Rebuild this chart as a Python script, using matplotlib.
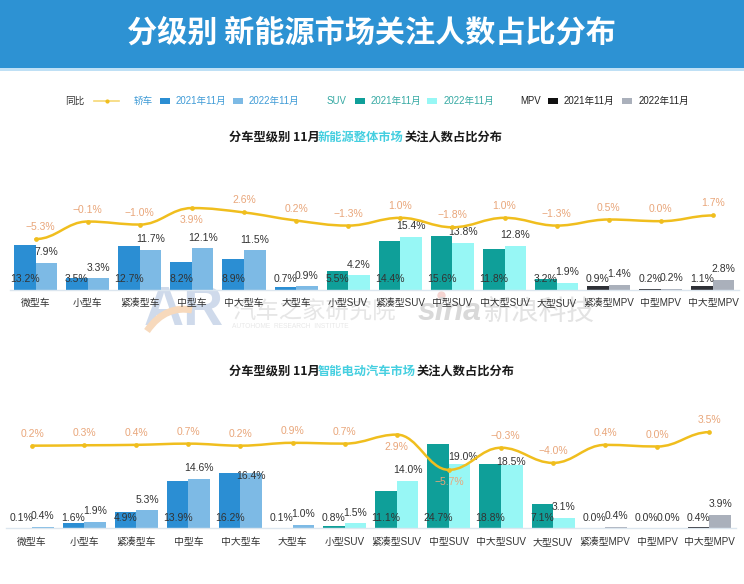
import numpy as np
import matplotlib
matplotlib.use("Agg")
import matplotlib.pyplot as plt
from matplotlib.path import Path
from matplotlib.patches import PathPatch, Rectangle

FONT = ['Liberation Sans', 'Noto Sans CJK SC', 'DejaVu Sans']
CJK = ['Noto Sans CJK SC', 'Liberation Sans', 'DejaVu Sans']
plt.rcParams['font.family'] = FONT

categories = ['微型车', '小型车', '紧凑型车', '中型车', '中大型车', '大型车', '小型SUV',
              '紧凑型SUV', '中型SUV', '中大型SUV', '大型SUV', '紧凑型MPV', '中型MPV', '中大型MPV']
segment_sizes = [6, 5, 3]

overall_2021 = [13.2, 3.5, 12.7, 8.2, 8.9, 0.7, 5.5, 14.4, 15.6, 11.8, 3.2, 0.9, 0.2, 1.1]
overall_2022 = [7.9, 3.3, 11.7, 12.1, 11.5, 0.9, 4.2, 15.4, 13.8, 12.8, 1.9, 1.4, 0.2, 2.8]
overall_yoy = [-5.3, -0.1, -1.0, 3.9, 2.6, 0.2, -1.3, 1.0, -1.8, 1.0, -1.3, 0.5, 0.0, 1.7]

smart_2021 = [0.1, 1.6, 4.9, 13.9, 16.2, 0.1, 0.8, 11.1, 24.7, 18.8, 7.1, 0.0, 0.0, 0.4]
smart_2022 = [0.4, 1.9, 5.3, 14.6, 16.4, 1.0, 1.5, 14.0, 19.0, 18.5, 3.1, 0.4, 0.0, 3.9]
smart_yoy = [0.2, 0.3, 0.4, 0.7, 0.2, 0.9, 0.7, 2.9, -5.7, -0.3, -4.0, 0.4, 0.0, 3.5]

colors_2021 = ['#2B8ED3', '#0F9F99', '#2E3036']
colors_2022 = ['#7DBAE5', '#97F7F5', '#AAB0BB']
LINE = '#F0BE1E'
LABEL = '#333333'
YOY_LABEL = '#E9A67A'
W, H = 744, 584

fig = plt.figure(figsize=(W / 100, H / 100), dpi=100, facecolor='white')
deco = fig.add_axes([0, 0, 1, 1], zorder=0)
deco.set_xlim(0, W)
deco.set_ylim(H, 0)
deco.axis('off')


def pct(v):
    return f"{v:.1f}%".replace('-', '\u2212')


def smooth_path(x, y):
    x, y = np.asarray(x, float), np.asarray(y, float)
    m = np.zeros(len(y))
    for i in range(1, len(y) - 1):
        if (y[i] - y[i - 1]) * (y[i + 1] - y[i]) > 0:
            m[i] = (y[i + 1] - y[i - 1]) / 2
    verts, codes = [(x[0], y[0])], [Path.MOVETO]
    for i in range(len(y) - 1):
        verts += [(x[i] + 0.4, y[i] + 0.4 * m[i]),
                  (x[i + 1] - 0.4, y[i + 1] - 0.4 * m[i + 1]),
                  (x[i + 1], y[i + 1])]
        codes += [Path.CURVE4] * 3
    return Path(verts, codes)


def panel(left, right, top, base, v21, v22, yoy, zero_px, slope, offsets22, yoy_shift):
    ax = fig.add_axes([left / W, 1 - base / H, (right - left) / W, (base - top) / H], zorder=1)
    ax.patch.set_alpha(0)
    ax.set_xlim(-0.5, len(categories) - 0.5)
    ax.set_ylim(0, (base - top) / 3.4)
    for s in ['top', 'left', 'right']:
        ax.spines[s].set_visible(False)
    ax.spines['bottom'].set_color('#DCE6EF')
    ax.spines['bottom'].set_linewidth(1)
    ax.set_yticks([])
    ax.set_xticks(range(len(categories)), categories, fontsize=7.1, color='#333333')
    ax.tick_params(axis='x', length=0, pad=12)
    for t_ in ax.get_xticklabels():
        t_.set_va('baseline')

    x = np.arange(len(categories))
    bw = 0.413
    col21 = np.repeat(colors_2021, segment_sizes)
    col22 = np.repeat(colors_2022, segment_sizes)
    ax.bar(x - bw / 2, v21, bw, color=col21, linewidth=0)
    ax.bar(x + bw / 2, v22, bw, color=col22, linewidth=0)

    for i in x:
        ax.annotate(pct(v21[i]), (i - bw / 2, 0), xytext=(0, 10.5), textcoords='offset pixels',
                    ha='center', va='center', fontsize=7.5, color=LABEL, zorder=5)
        ax.annotate(pct(v22[i]), (i + bw / 2, v22[i]),
                    xytext=offsets22.get(i, (0, 10.7)), textcoords='offset pixels',
                    ha='center', va='center', fontsize=7.5, color=LABEL, zorder=5)

    line_ax = ax.twinx()
    line_ax.patch.set_alpha(0)
    line_ax.axis('off')
    line_ax.set_ylim((zero_px - base) / slope, (zero_px - top) / slope)
    line_ax.add_patch(PathPatch(smooth_path(x, yoy), fill=False, edgecolor=LINE, linewidth=1.8, capstyle='round'))
    line_ax.plot(x, yoy, ls='none', marker='o', ms=3.4, color=LINE, mew=0)
    for i in x:
        below = i in yoy_shift['below']
        dx = yoy_shift['dx'].get(i, 0)
        line_ax.annotate(pct(yoy[i]), (i, yoy[i]), xytext=(dx, -12 if below else 12),
                         textcoords='offset pixels', ha='center', va='center',
                         fontsize=7.5, color=YOY_LABEL, zorder=6)
    return ax


panel(9.5, 739, 180, 289.5, overall_2021, overall_2022, overall_yoy, 221.2, 3.37, {},
      {'below': {3}, 'dx': {0: 4.5}})
panel(6, 735.5, 410, 528.3, smart_2021, smart_2022, smart_yoy, 446.5, 4.1,
      {4: (0, -3.5), 8: (3, 7), 9: (-1, 3), 7: (0, 10.7)},
      {'below': {7, 8}, 'dx': {9: 4}})

# header banner
deco.add_patch(Rectangle((0, 0), W, 68, color='#2D92D3', lw=0))
deco.add_patch(Rectangle((0, 68), W, 2.5, color='#BFE0F5', lw=0))
deco.text(371.5, 33, '分级别 新能源市场关注人数占比分布', color='white', fontsize=21.7,
          fontweight='bold', family=CJK, ha='center', va='center')


def t(x, y, s, c='#222222', fs=6.9, **kw):
    deco.text(x, y, s, color=c, fontsize=fs, va='center', ha=kw.pop('ha', 'left'), family=kw.pop('family', FONT), **kw)


# legend
LY = 100.7
LEG_BLUE, LEG_GREEN = '#3F9BD6', '#35A9A3'
t(65.5, LY, '同比', '#333333')
deco.plot([94, 119], [LY, LY], color='#F6D876', lw=1.2)
deco.plot([106.5], [LY], marker='o', ms=3, color=LINE, mew=0)
legend_groups = [
    ('轿车', 134, LEG_BLUE, colors_2021[0], colors_2022[0], 159.5, 232.5),
    ('SUV', 326.5, LEG_GREEN, colors_2021[1], colors_2022[1], 354.5, 427),
    ('MPV', 520, '#222222', '#111111', colors_2022[2], 548, 622),
]
for name, nx, tc, c1, c2, s1, s2 in legend_groups:
    t(nx, LY, name, tc)
    deco.add_patch(Rectangle((s1, LY - 3), 10, 6.5, color=c1, lw=0))
    t(s1 + 16, LY, '2021年11月', tc)
    deco.add_patch(Rectangle((s2, LY - 3), 10, 6.5, color=c2, lw=0))
    t(s2 + 16.5, LY, '2022年11月', tc)

# section titles
CYAN = '#45CFE0'
for y, parts in [(137.3, [(229, '分车型级别 11月', '#1A1A1A'), (317.5, '新能源整体市场', CYAN), (404.5, '关注人数占比分布', '#1A1A1A')]),
                 (371, [(229, '分车型级别 11月', '#1A1A1A'), (318, '智能电动汽车市场', CYAN), (416.5, '关注人数占比分布', '#1A1A1A')])]:
    for x0, s, c in parts:
        t(x0, y, s, c, fs=8.8, family=CJK, fontweight='bold')

# watermark
t(144, 311, 'AR', '#CFDAEB', fs=40, fontweight='bold')
arc = Path([(147, 331), (160, 312), (176, 307), (192, 310)],
           [Path.MOVETO, Path.CURVE4, Path.CURVE4, Path.CURVE4])
deco.add_patch(PathPatch(arc, fill=False, edgecolor='#F7D9BC', lw=5, zorder=4))
t(232, 312, '汽车之家研究院', '#E6E6E6', fs=16.8, family=CJK)
t(232, 326, 'AUTOHOME  RESEARCH  INSTITUTE', '#E8E8E8', fs=4.8)
t(418, 312, 'sina', '#D9D9D9', fs=23, fontweight='bold', style='italic')
t(484, 312, '新浪科技', '#E3E3E3', fs=20, family=CJK, style='italic')
deco.plot([441], [295], marker='o', ms=6, color='#F5D5D2', mew=0)

fig.savefig('out.png', dpi=100, facecolor='white')
